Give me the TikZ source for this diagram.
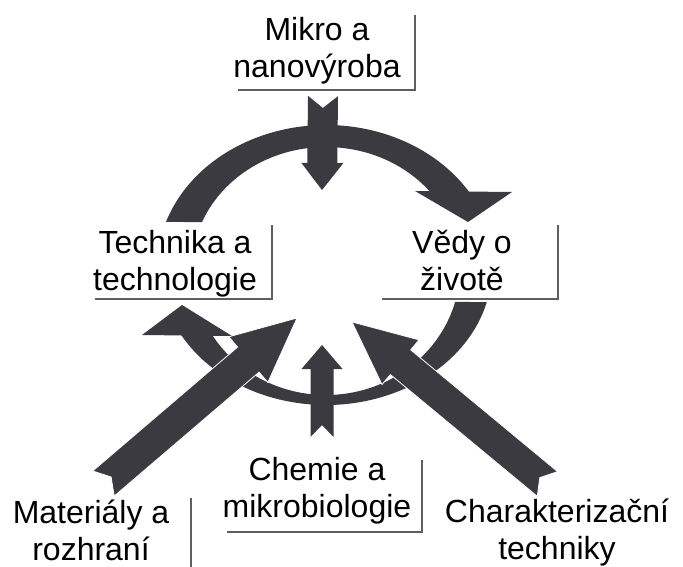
\documentclass[tikz,border=0pt]{standalone}
\usepackage{fontspec}
\setmainfont{Liberation Sans}
\usetikzlibrary{calc}
\definecolor{arrowgray}{RGB}{58,58,64}
\definecolor{rulegray}{RGB}{95,95,95}
\tikzset{topic/.style={align=center, font=\fontsize{32}{37}\selectfont, inner sep=0pt}, arrowfill/.style={fill=arrowgray}, boxline/.style={rulegray, line width=1.3pt}}
\newcommand{\blockarrow}[7][]{\coordinate (hb) at ($(#3)!#6!(#2)$);
\fill[arrowfill,#1] ($(#2)!#4!90:(#3)$) -- ($(hb)!#4!-90:(#2)$) -- ($(hb)!#5!-90:(#2)$) -- (#3) -- ($(hb)!#5!90:(#2)$) -- ($(hb)!#4!90:(#2)$) -- ($(#2)!#4!-90:(#3)$) -- ($(#2)!#7!(#3)$) -- cycle;}
\begin{document}
\begin{tikzpicture}[x=1pt,y=-1pt]
\useasboundingbox (0,0) rectangle (683,567);\fill[white] (0,0) rectangle (683,567);
\coordinate (cen) at (326,268);
\node[topic] (mikro) at (317,51) {Mikro a\\nanovýroba};
\node[topic] (technika) at (175,264) {Technika a\\technologie};\node[topic] (vedy) at (462,261) {Vědy o\\životě};
\node[topic] (chemie) at (317,491) {Chemie a\\mikrobiologie};
\node[topic] (materialy) at (91,530) {Materiály a\\rozhraní};\node[topic] (charakter) at (557,533) {Charakterizační\\techniky};
\draw[boxline] (238,90) -- (415,90) -- (415,15);\draw[boxline] (95,299) -- (272,299) -- (272,225);\draw[boxline] (382,299) -- (558,299) -- (558,225);
\draw[boxline] (227,532) -- (422,532) -- (422,460);\draw[boxline] (191,567) -- (191,498);
\fill[arrowfill] ($(cen)+(198.8:169 and 143)$) arc[start angle=198.8, end angle=327.9, x radius=169, y radius=143] -- ($(cen)+(321.1:134 and 121)$) arc[start angle=321.1, end angle=202.3, x radius=134, y radius=121] -- cycle;
\fill[arrowfill] (415,191) -- (512,192) -- (468,222) -- cycle;
\fill[arrowfill] ($(cen)+(14.4:166 and 137)$) arc[start angle=14.4, end angle=151.2, x radius=166, y radius=137] -- ($(cen)+(148.7:134 and 127)$) arc[start angle=148.7, end angle=15.5, x radius=134, y radius=127] -- cycle;
\fill[arrowfill] (142,335) -- (232,336) -- (182,305) -- cycle;
\coordinate (mikro tail) at (323,96);\coordinate (mikro tip) at (322,190);
\coordinate (chemie tail) at (322,437);\coordinate (chemie tip) at (322,345);
\coordinate (materialy tail) at (103.5,483.5);\coordinate (materialy tip) at (297,318);
\coordinate (charakter tail) at (547.5,484);\coordinate (charakter tip) at (352,322);
\blockarrow{mikro tail}{mikro tip}{15pt}{21pt}{27pt}{12pt}
\blockarrow{chemie tail}{chemie tip}{11.5pt}{20.5pt}{24pt}{12pt}
\blockarrow[draw=white, line width=0.8pt]{materialy tail}{materialy tip}{16.5pt}{30pt}{64pt}{10pt}
\blockarrow[draw=white, line width=0.8pt]{charakter tail}{charakter tip}{16pt}{29pt}{63pt}{10pt}
\end{tikzpicture}
\end{document}
